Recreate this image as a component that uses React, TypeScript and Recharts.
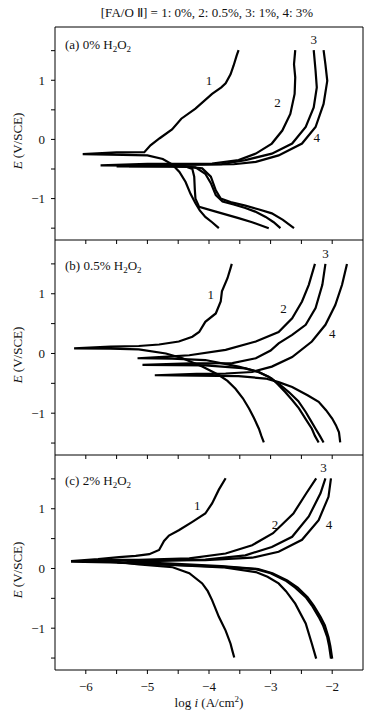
import React from 'react';
import { LineChart, Line, XAxis, YAxis, ReferenceLine, ReferenceDot } from 'recharts';

type P = [number, number];

const xTicks = [-6, -5.5, -5, -4.5, -4, -3.5, -3, -2.5, -2];
const yTicks = [-1.5, -1, -0.5, 0, 0.5, 1, 1.5];
const xDomain: [number, number] = [-6.5, -1.5];
const yDomain: [number, number] = [-1.7, 1.9];
const curveNames = ['1', '2', '3', '4'];
const title = '[FA/O \u2161] = 1: 0%, 2: 0.5%, 3: 1%, 4: 3%';
const panelTags = ['(a) 0%', '(b) 0.5%', '(c) 2%'];

// Panel (a) 0% H2O2 : [log i, E]
const a1: P[] = [[-3.84,-1.5],[-3.95,-1.4],[-4.06,-1.31],[-4.15,-1.2],[-4.22,-1.08],[-4.3,-0.92],[-4.38,-0.72],[-4.48,-0.55],[-4.6,-0.42],[-4.75,-0.33],[-5.0,-0.27],[-5.4,-0.26],[-6.05,-0.25],[-5.5,-0.22],[-5.05,-0.215],[-4.95,-0.1],[-4.8,0.02],[-4.6,0.17],[-4.45,0.35],[-4.22,0.52],[-3.95,0.77],[-3.8,0.88],[-3.73,0.95],[-3.65,1.1],[-3.6,1.25],[-3.55,1.42],[-3.52,1.51]];
const a2: P[] = [[-3.03,-1.5],[-3.3,-1.4],[-3.52,-1.33],[-3.89,-1.22],[-4.16,-1.14],[-4.22,-1.0],[-4.23,-0.85],[-4.24,-0.63],[-4.27,-0.5],[-4.4,-0.45],[-5.0,-0.445],[-5.76,-0.44],[-5.0,-0.415],[-4.5,-0.415],[-3.95,-0.41],[-3.52,-0.35],[-3.24,-0.24],[-2.98,-0.07],[-2.81,0.15],[-2.68,0.43],[-2.61,0.77],[-2.6,1.05],[-2.62,1.27],[-2.6,1.51]];
const a3: P[] = [[-2.84,-1.5],[-2.95,-1.4],[-3.08,-1.31],[-3.25,-1.22],[-3.41,-1.16],[-3.6,-1.1],[-3.78,-1.05],[-3.89,-0.94],[-3.97,-0.74],[-4.06,-0.58],[-4.22,-0.47],[-4.6,-0.455],[-5.3,-0.45],[-4.6,-0.425],[-3.8,-0.42],[-3.41,-0.35],[-2.98,-0.24],[-2.65,-0.07],[-2.43,0.21],[-2.3,0.54],[-2.25,0.88],[-2.27,1.16],[-2.3,1.51]];
const a4: P[] = [[-2.62,-1.5],[-2.8,-1.36],[-2.98,-1.25],[-3.2,-1.18],[-3.41,-1.12],[-3.65,-1.06],[-3.81,-1.0],[-3.89,-0.86],[-3.97,-0.63],[-4.11,-0.49],[-4.4,-0.46],[-5.5,-0.455],[-4.5,-0.43],[-3.6,-0.42],[-3.24,-0.38],[-2.87,-0.27],[-2.49,-0.07],[-2.27,0.21],[-2.14,0.6],[-2.08,0.99],[-2.11,1.27],[-2.14,1.51]];

// Panel (b) 0.5% H2O2
const b1: P[] = [[-3.11,-1.49],[-3.15,-1.38],[-3.19,-1.26],[-3.27,-1.08],[-3.35,-0.92],[-3.45,-0.75],[-3.57,-0.59],[-3.7,-0.46],[-3.84,-0.36],[-4.11,-0.22],[-4.43,-0.08],[-4.7,0.0],[-5.14,0.07],[-5.6,0.08],[-6.19,0.085],[-5.6,0.115],[-5.14,0.125],[-4.81,0.15],[-4.49,0.2],[-4.27,0.28],[-4.16,0.36],[-4.06,0.53],[-3.89,0.67],[-3.81,0.87],[-3.79,1.04],[-3.7,1.26],[-3.65,1.43],[-3.63,1.5]];
const b2: P[] = [[-2.22,-1.49],[-2.28,-1.38],[-2.33,-1.26],[-2.43,-1.1],[-2.54,-0.92],[-2.65,-0.78],[-2.76,-0.65],[-2.88,-0.52],[-2.98,-0.42],[-3.19,-0.31],[-3.52,-0.22],[-4.06,-0.11],[-4.6,-0.085],[-5.16,-0.08],[-4.6,-0.05],[-4.32,-0.03],[-3.73,0.06],[-3.24,0.2],[-2.87,0.36],[-2.65,0.59],[-2.49,0.87],[-2.38,1.15],[-2.28,1.5]];
const b3: P[] = [[-2.14,-1.49],[-2.2,-1.38],[-2.27,-1.26],[-2.35,-1.12],[-2.43,-0.98],[-2.55,-0.8],[-2.7,-0.65],[-2.85,-0.52],[-3.03,-0.39],[-3.2,-0.31],[-3.41,-0.25],[-4.06,-0.2],[-5.08,-0.19],[-4.3,-0.165],[-3.62,-0.16],[-3.24,-0.08],[-3.0,0.05],[-2.87,0.17],[-2.65,0.31],[-2.43,0.48],[-2.27,0.76],[-2.16,1.15],[-2.11,1.5]];
const b4: P[] = [[-1.87,-1.49],[-1.88,-1.4],[-1.89,-1.32],[-1.94,-1.2],[-2.0,-1.09],[-2.1,-0.95],[-2.22,-0.81],[-2.4,-0.7],[-2.65,-0.56],[-2.87,-0.48],[-3.08,-0.42],[-3.52,-0.38],[-4.2,-0.37],[-4.88,-0.365],[-4.2,-0.34],[-3.73,-0.335],[-3.3,-0.31],[-2.98,-0.22],[-2.65,-0.06],[-2.33,0.2],[-2.11,0.48],[-1.95,0.81],[-1.84,1.15],[-1.76,1.5]];

// Panel (c) 2% H2O2
const c1: P[] = [[-3.59,-1.49],[-3.62,-1.38],[-3.65,-1.26],[-3.73,-1.04],[-3.84,-0.81],[-3.95,-0.53],[-4.02,-0.38],[-4.11,-0.25],[-4.32,-0.08],[-4.59,0.02],[-5.14,0.07],[-5.49,0.11],[-6.24,0.125],[-5.8,0.155],[-5.46,0.19],[-5.19,0.21],[-4.97,0.24],[-4.81,0.31],[-4.73,0.46],[-4.65,0.55],[-4.49,0.64],[-4.27,0.78],[-4.06,0.92],[-3.95,1.09],[-3.84,1.32],[-3.73,1.51]];
const c2: P[] = [[-2.26,-1.51],[-2.33,-1.26],[-2.43,-0.92],[-2.6,-0.59],[-2.75,-0.38],[-2.87,-0.25],[-3.05,-0.14],[-3.24,-0.06],[-3.78,0.02],[-4.6,0.06],[-5.6,0.1],[-6.24,0.115],[-5.6,0.145],[-5.14,0.145],[-4.32,0.17],[-3.73,0.25],[-3.3,0.39],[-2.96,0.59],[-2.63,0.92],[-2.42,1.26],[-2.26,1.51]];
const c3: P[] = [[-2.02,-1.51],[-2.05,-1.3],[-2.08,-1.15],[-2.15,-0.95],[-2.22,-0.81],[-2.33,-0.62],[-2.43,-0.48],[-2.6,-0.32],[-2.76,-0.2],[-3.0,-0.08],[-3.24,-0.01],[-3.8,0.03],[-4.8,0.07],[-5.49,0.1],[-4.8,0.13],[-4.06,0.15],[-3.41,0.22],[-2.98,0.36],[-2.65,0.53],[-2.38,0.87],[-2.19,1.26],[-2.11,1.51]];
const c4: P[] = [[-2.0,-1.51],[-2.03,-1.3],[-2.06,-1.15],[-2.12,-0.95],[-2.19,-0.81],[-2.3,-0.62],[-2.4,-0.48],[-2.56,-0.32],[-2.73,-0.2],[-2.97,-0.08],[-3.2,-0.01],[-3.8,0.04],[-4.6,0.08],[-5.3,0.11],[-4.6,0.135],[-4.06,0.14],[-3.3,0.18],[-2.87,0.28],[-2.49,0.48],[-2.22,0.81],[-2.06,1.2],[-2.02,1.51]];

// Curve number label anchors (data coords)
const aLabels: P[] = [[-4.0, 0.99], [-2.89, 0.63], [-2.3, 1.69], [-2.25, 0.04]];
const bLabels: P[] = [[-3.97, 0.98], [-2.79, 0.76], [-2.11, 1.68], [-2.0, 0.34]];
const cLabels: P[] = [[-4.19, 1.06], [-2.93, 0.73], [-2.14, 1.69], [-2.05, 0.73]];

const FONT = '"Liberation Serif", "Times New Roman", Times, serif';

const fmt = (v: number) =>
  Number.isInteger(v) ? (v < 0 ? '\u2212' + Math.abs(v) : String(v)) : '';

interface PanelProps {
  curves: P[][];
  labels: P[];
  top: number;
  height: number;
  marginTop: number;
  xAxisHeight: number;
  showXLabels: boolean;
  showTop: boolean;
}

function Panel({ curves, labels, top, height, marginTop, xAxisHeight, showXLabels, showTop }: PanelProps) {
  return (
    <div style={{ position: 'absolute', left: 0, top }}>
      <LineChart width={380} height={height} margin={{ top: marginTop, right: 17, bottom: 0, left: 0 }}>
        <XAxis
          dataKey="x"
          type="number"
          domain={xDomain}
          ticks={xTicks}
          allowDataOverflow
          height={xAxisHeight}
          tickFormatter={showXLabels ? fmt : () => ''}
          tickSize={4}
          tickMargin={8}
          stroke="#000"
          tick={{ fill: '#111', fontSize: 13, fontFamily: FONT }}
          interval={0}
        />
        <YAxis
          type="number"
          domain={yDomain}
          ticks={yTicks}
          allowDataOverflow
          width={55}
          tickFormatter={fmt}
          tickSize={4}
          tickMargin={6}
          stroke="#000"
          tick={{ fill: '#111', fontSize: 13, fontFamily: FONT }}
          interval={0}
        />
        <ReferenceLine x={-1.5} stroke="#000" strokeWidth={1} />
        {showTop && <ReferenceLine y={1.9} stroke="#000" strokeWidth={1} />}
        {curves.map((c, i) => (
          <Line
            key={i}
            data={c.map(([x, y]) => ({ x, y }))}
            dataKey="y"
            type="linear"
            stroke="#000"
            strokeWidth={2.2}
            dot={false}
            activeDot={false}
            isAnimationActive={false}
          />
        ))}
        {labels.map(([x, y], i) => (
          <ReferenceDot
            key={'l' + i}
            x={x}
            y={y}
            r={0}
            ifOverflow="visible"
            shape={(p: any) => (
              <text x={p.cx} y={p.cy} textAnchor="middle" dominantBaseline="central" fontSize={13} fontFamily={FONT} fill="#111">
                {curveNames[i]}
              </text>
            )}
          />
        ))}
      </LineChart>
    </div>
  );
}

const subStyle: React.CSSProperties = { fontSize: 9, verticalAlign: '-3px', lineHeight: 0 };

function Tag({ text, y }: { text: string; y: number }) {
  return (
    <div style={{ position: 'absolute', left: 65, top: y - 8, fontSize: 13, fontFamily: FONT, color: '#111', whiteSpace: 'nowrap', lineHeight: '16px' }}>
      {text} H<span style={subStyle}>2</span>O<span style={subStyle}>2</span>
    </div>
  );
}

function YLabel({ y }: { y: number }) {
  return (
    <div
      style={{
        position: 'absolute',
        left: 18,
        top: y,
        transform: 'translate(-50%, -50%) rotate(-90deg)',
        fontSize: 13,
        fontFamily: FONT,
        color: '#111',
        whiteSpace: 'nowrap',
        lineHeight: '16px',
      }}
    >
      <i>E</i> (V/SCE)
    </div>
  );
}

export default function App() {
  return (
    <div style={{ position: 'absolute', left: 0, top: 0, width: 380, height: 725, background: '#fff', fontFamily: FONT }}>
      <div style={{ position: 'absolute', left: 0, top: 5, width: 414, textAlign: 'center', fontSize: 13, color: '#111', lineHeight: '16px', whiteSpace: 'nowrap' }}>
        {title}
      </div>
      <Panel curves={[a1, a2, a3, a4]} labels={aLabels} top={0} height={250} marginTop={27} xAxisHeight={10} showXLabels={false} showTop={true} />
      <Panel curves={[b1, b2, b3, b4]} labels={bLabels} top={230} height={235} marginTop={10} xAxisHeight={10} showXLabels={false} showTop={false} />
      <Panel curves={[c1, c2, c3, c4]} labels={cLabels} top={445} height={270} marginTop={10} xAxisHeight={45} showXLabels={true} showTop={false} />
      <Tag text={panelTags[0]} y={45} />
      <Tag text={panelTags[1]} y={266} />
      <Tag text={panelTags[2]} y={481} />
      <YLabel y={141} />
      <YLabel y={355} />
      <YLabel y={570} />
      <div style={{ position: 'absolute', left: 0, top: 695, width: 418, textAlign: 'center', fontSize: 13, color: '#111', lineHeight: '16px', whiteSpace: 'nowrap' }}>
        log <i>i</i> (A/cm<span style={{ fontSize: 9, verticalAlign: '5px', lineHeight: 0 }}>2</span>)
      </div>
    </div>
  );
}
